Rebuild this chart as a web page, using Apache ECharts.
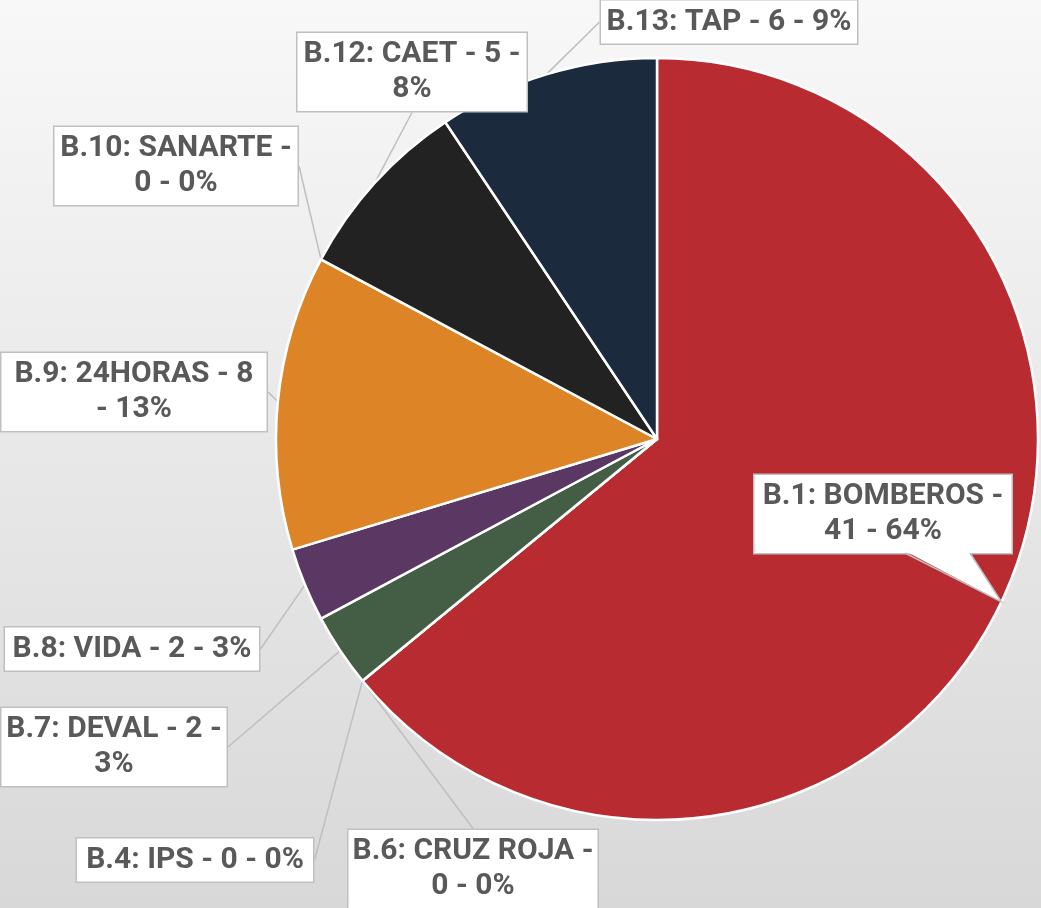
<!DOCTYPE html>
<html>
<head>
<meta charset="utf-8">
<script src="https://cdn.jsdelivr.net/npm/echarts@6/dist/echarts.min.js"></script>
<style>
    html, body { margin: 0; padding: 0; }
    #chart { width: 1041px; height: 908px; }
</style>
</head>
<body>
<div id="chart"></div>
<script>
// slice names and counts, in drawing order (clockwise from 12 o'clock)
const names = ['B.1: BOMBEROS', 'B.4: IPS', 'B.6: CRUZ ROJA', 'B.7: DEVAL', 'B.8: VIDA',
    'B.9: 24HORAS', 'B.10: SANARTE', 'B.12: CAET', 'B.13: TAP'];
const counts = [41, 0, 0, 2, 2, 8, 0, 5, 6];
const colors = ['#B82C31', '#7F7F7F', '#A5A5A5', '#435E45', '#5B3864',
    '#DC8426', '#8C8C8C', '#222222', '#1B2A3C'];

// callout box centres, widths and where the text wraps (layout only)
const boxCenters = [[883, 514], [195, 860], [473, 869], [114, 747], [132, 649],
    [134, 392], [176, 166], [412, 72], [729, 22]];
const boxWidths = [257, 236, 249, 225, 254, 265, 243, 229, 256];
// 0 = one line, 1 = after name, 2 = after count, 3 = before percent dash
const wrapMode = [1, 0, 1, 2, 0, 3, 1, 2, 0];

const LINE_H = 35;
const PAD_V = 4;
const BORDER = '#BFBFBF';

let chart = echarts.init(document.getElementById('chart'));

let data = names.map((n, i) => ({
    name: n,
    value: counts[i],
    itemStyle: { color: colors[i] },
    label: { width: boxWidths[i] - 20 },
    // big slice gets its own wedge pointer below
    labelLine: { show: i !== 0 }
}));

function calloutText(p) {
    let pct = p.percent + '%';
    switch (wrapMode[p.dataIndex]) {
        case 1:
            return p.name + ' -\n' + p.value + ' - ' + pct;
        case 2:
            return p.name + ' - ' + p.value + ' -\n' + pct;
        case 3:
            return p.name + ' - ' + p.value + '\n- ' + pct;
        default:
            return p.name + ' - ' + p.value + ' - ' + pct;
    }
}

let option = {
    animation: false,
    backgroundColor: {
        type: 'linear', x: 0, y: 0, x2: 0, y2: 1,
        colorStops: [
            { offset: 0, color: '#F8F8F8' },
            { offset: 1, color: '#D8D8D8' }
        ]
    },
    series: [
        {
            type: 'pie',
            center: [657, 439],
            radius: 381,
            startAngle: 90,
            clockwise: true,
            percentPrecision: 0,
            avoidLabelOverlap: false,
            itemStyle: {
                borderColor: '#FFFFFF',
                borderWidth: 2.5
            },
            label: {
                show: true,
                position: 'outside',
                formatter: calloutText,
                fontFamily: 'Roboto, sans-serif',
                fontWeight: 'bold',
                fontSize: 30,
                lineHeight: LINE_H,
                color: '#595959',
                backgroundColor: '#FFFFFF',
                borderColor: BORDER,
                borderWidth: 1.5,
                padding: [PAD_V, 10],
                align: 'center',
                overflow: 'none'
            },
            labelLine: {
                show: true,
                length: 8,
                length2: 0,
                lineStyle: { color: BORDER, width: 1.5 }
            },
            labelLayout: function (params) {
                let c = boxCenters[params.dataIndex];
                return {
                    x: c[0],
                    y: c[1],
                    align: 'center',
                    verticalAlign: 'middle'
                };
            },
            emphasis: { disabled: true },
            data: data
        }
    ]
};

chart.setOption(option);

// wedge pointer for the callout that sits inside the big slice,
// its tip taken from the pie's own layout (rim point at the slice middle)
let lay = chart.getModel().getSeriesByIndex(0).getData().getItemLayout(0);
if (lay) {
    let mid = (lay.startAngle + lay.endAngle) / 2;
    let tip = [lay.cx + lay.r * Math.cos(mid), lay.cy + lay.r * Math.sin(mid)];
    let c = boxCenters[0];
    let bottom = c[1] + LINE_H + PAD_V;
    let b1 = [c[0] + 22, bottom];
    let b2 = [c[0] + 87, bottom];
    chart.setOption({
        graphic: [
            {
                type: 'polygon',
                z: 100,
                shape: { points: [[b1[0] + 1, bottom - 1.5], tip, [b2[0] - 1, bottom - 1.5]] },
                style: { fill: '#FFFFFF' }
            },
            {
                type: 'polyline',
                z: 101,
                shape: { points: [b1, tip, b2] },
                style: { stroke: BORDER, lineWidth: 1.5, fill: null }
            }
        ]
    });
}
</script>
</body>
</html>
